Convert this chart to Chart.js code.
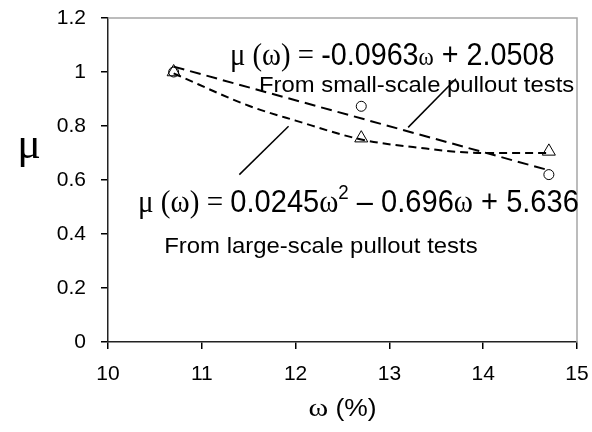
<!DOCTYPE html>
<html>
<head>
<meta charset="utf-8">
<script src="https://cdn.jsdelivr.net/npm/chart.js@4.4.0/dist/chart.umd.min.js"></script>
<style>
  body { margin: 0; background: #fff; }
  canvas { display: block; }
</style>
</head>
<body>
<canvas id="chart" width="592" height="432"></canvas>
<script>
// tick labels
const xTicks = [10, 11, 12, 13, 14, 15];
const yTickLabels = ['0', '0.2', '0.4', '0.6', '0.8', '1', '1.2'];

// measured points
const moisture = [10.7, 12.7, 14.7];
const muSmall = [1.0, 0.873, 0.62];   // circles
const muLarge = [1.0, 0.755, 0.706];  // triangles

// trend lines
const linearX = [10.7, 14.7];
const linearY = [1.02, 0.636];
const quadX = [10.7, 11.5, 12.0, 12.7, 13.3, 14.0, 14.7];
const quadY = [0.995, 0.875, 0.82, 0.75, 0.72, 0.70, 0.70];

// leader lines from the labels to the curves
const leaderSmallX = [13.71, 13.20];
const leaderSmallY = [0.975, 0.795];
const leaderLargeX = [11.925, 11.40];
const leaderLargeY = [0.799, 0.62];

const SANS = '"Liberation Sans", Arial, sans-serif';
const SERIF = '"Liberation Serif", "Times New Roman", serif';

const pts = (xs, ys) => xs.map((x, i) => ({ x: x, y: ys[i] }));

// runs of text: [text, font, raise]
const eqSmall = [
  ['μ (ω) = ', '31px ' + SERIF],
  ['-0.0963', '31px ' + SANS],
  ['ω', '25px ' + SERIF],
  [' + 2.0508', '31px ' + SANS]
];
const eqLarge = [
  ['μ (ω) = ', '31px ' + SERIF],
  ['0.0245', '31px ' + SANS],
  ['ω', '31px ' + SERIF],
  ['2', '20px ' + SANS, -13],
  [' – 0.696', '31px ' + SANS],
  ['ω', '31px ' + SERIF],
  [' + 5.636', '31px ' + SANS]
];
const noteSmall = [['From small-scale pullout tests', '22px ' + SANS]];
const noteLarge = [['From large-scale pullout tests', '22px ' + SANS]];

// [runs, start omega, end omega, baseline mu]
const notes = [
  [eqSmall, 11.30, 14.76, 1.027],
  [noteSmall, 11.61, 14.97, 0.927],
  [eqLarge, 10.32, 15.02, 0.482],
  [noteLarge, 10.60, 13.94, 0.331]
];

function runsWidth(ctx, runs) {
  let w = 0;
  runs.forEach(r => { ctx.font = r[1]; w += ctx.measureText(r[0]).width; });
  return w;
}

function drawRuns(ctx, runs, x, y, sx) {
  ctx.save();
  ctx.translate(x, y);
  ctx.scale(sx, 1);
  let cx = 0;
  runs.forEach(r => {
    ctx.font = r[1];
    ctx.fillText(r[0], cx, r[2] || 0);
    cx += ctx.measureText(r[0]).width;
  });
  ctx.restore();
}

const annotations = {
  id: 'annotations',
  afterDraw(chart) {
    const ctx = chart.ctx;
    const xs = chart.scales.x, ys = chart.scales.y;
    const area = chart.chartArea;

    // grey frame on top and right
    ctx.save();
    ctx.strokeStyle = '#a6a6a6';
    ctx.lineWidth = 1.5;
    ctx.beginPath();
    ctx.moveTo(area.left, area.top);
    ctx.lineTo(area.right, area.top);
    ctx.lineTo(area.right, area.bottom);
    ctx.stroke();

    ctx.fillStyle = '#000';
    ctx.textBaseline = 'alphabetic';
    ctx.textAlign = 'left';
    notes.forEach(n => {
      const x0 = xs.getPixelForValue(n[1]);
      const x1 = xs.getPixelForValue(n[2]);
      const sx = (x1 - x0) / runsWidth(ctx, n[0]);
      drawRuns(ctx, n[0], x0, ys.getPixelForValue(n[3]), sx);
    });

    // axis titles
    ctx.font = '44px ' + SERIF;
    ctx.textAlign = 'center';
    ctx.fillText('μ', area.left - 79, ys.getPixelForValue(0.68));

    const xTitle = [['ω', '26px ' + SERIF], [' (%)', '23px ' + SANS]];
    ctx.textAlign = 'left';
    const w = runsWidth(ctx, xTitle) * 1.15;
    drawRuns(ctx, xTitle, (area.left + area.right) / 2 - w / 2, area.bottom + 74, 1.15);
    ctx.restore();
  }
};

new Chart(document.getElementById('chart'), {
  type: 'scatter',
  data: {
    datasets: [
      {
        label: 'Small-scale',
        data: pts(moisture, muSmall),
        pointStyle: 'circle',
        pointRadius: 5,
        pointBorderWidth: 1,
        pointBorderColor: '#000',
        pointBackgroundColor: 'rgba(255,255,255,0)',
        showLine: false
      },
      {
        label: 'Large-scale',
        data: pts(moisture, muLarge),
        pointStyle: 'triangle',
        pointRadius: 7.5,
        pointBorderWidth: 1,
        pointBorderColor: '#000',
        pointBackgroundColor: 'rgba(255,255,255,0)',
        showLine: false
      },
      {
        label: 'Linear fit',
        data: pts(linearX, linearY),
        showLine: true,
        borderColor: '#000',
        borderWidth: 2,
        borderDash: [11, 6],
        pointRadius: 0
      },
      {
        label: 'Quadratic fit',
        data: pts(quadX, quadY),
        showLine: true,
        borderColor: '#000',
        borderWidth: 2,
        borderDash: [8, 5],
        cubicInterpolationMode: 'monotone',
        pointRadius: 0
      },
      {
        label: 'Leader small',
        data: pts(leaderSmallX, leaderSmallY),
        showLine: true,
        borderColor: '#000',
        borderWidth: 1.5,
        pointRadius: 0
      },
      {
        label: 'Leader large',
        data: pts(leaderLargeX, leaderLargeY),
        showLine: true,
        borderColor: '#000',
        borderWidth: 1.5,
        pointRadius: 0
      }
    ]
  },
  options: {
    responsive: false,
    animation: false,
    layout: { padding: { top: 18, right: 15, bottom: 0, left: 0 } },
    plugins: {
      legend: { display: false },
      tooltip: { enabled: false }
    },
    scales: {
      x: {
        type: 'linear',
        min: 10,
        max: 15,
        afterFit: s => { s.height = 90; s.paddingLeft = 0; s.paddingRight = 0; },
        afterBuildTicks: s => { s.ticks = xTicks.map(v => ({ value: v })); },
        ticks: {
          color: '#000',
          padding: 13,
          font: { family: SANS, size: 21 }
        },
        grid: { drawOnChartArea: false, color: '#000', lineWidth: 1.5, tickLength: 7 },
        border: { color: '#222', width: 1.5 }
      },
      y: {
        min: 0,
        max: 1.2,
        afterFit: s => { s.width = 108; s.paddingTop = 0; s.paddingBottom = 0; },
        afterBuildTicks: s => { s.ticks = yTickLabels.map(v => ({ value: parseFloat(v) })); },
        ticks: {
          color: '#000',
          padding: 15,
          font: { family: SANS, size: 21 },
          callback: (v, i) => yTickLabels[i]
        },
        grid: { drawOnChartArea: false, color: '#000', lineWidth: 1.5, tickLength: 7 },
        border: { color: '#222', width: 1.5 }
      }
    }
  },
  plugins: [annotations]
});
</script>
</body>
</html>
